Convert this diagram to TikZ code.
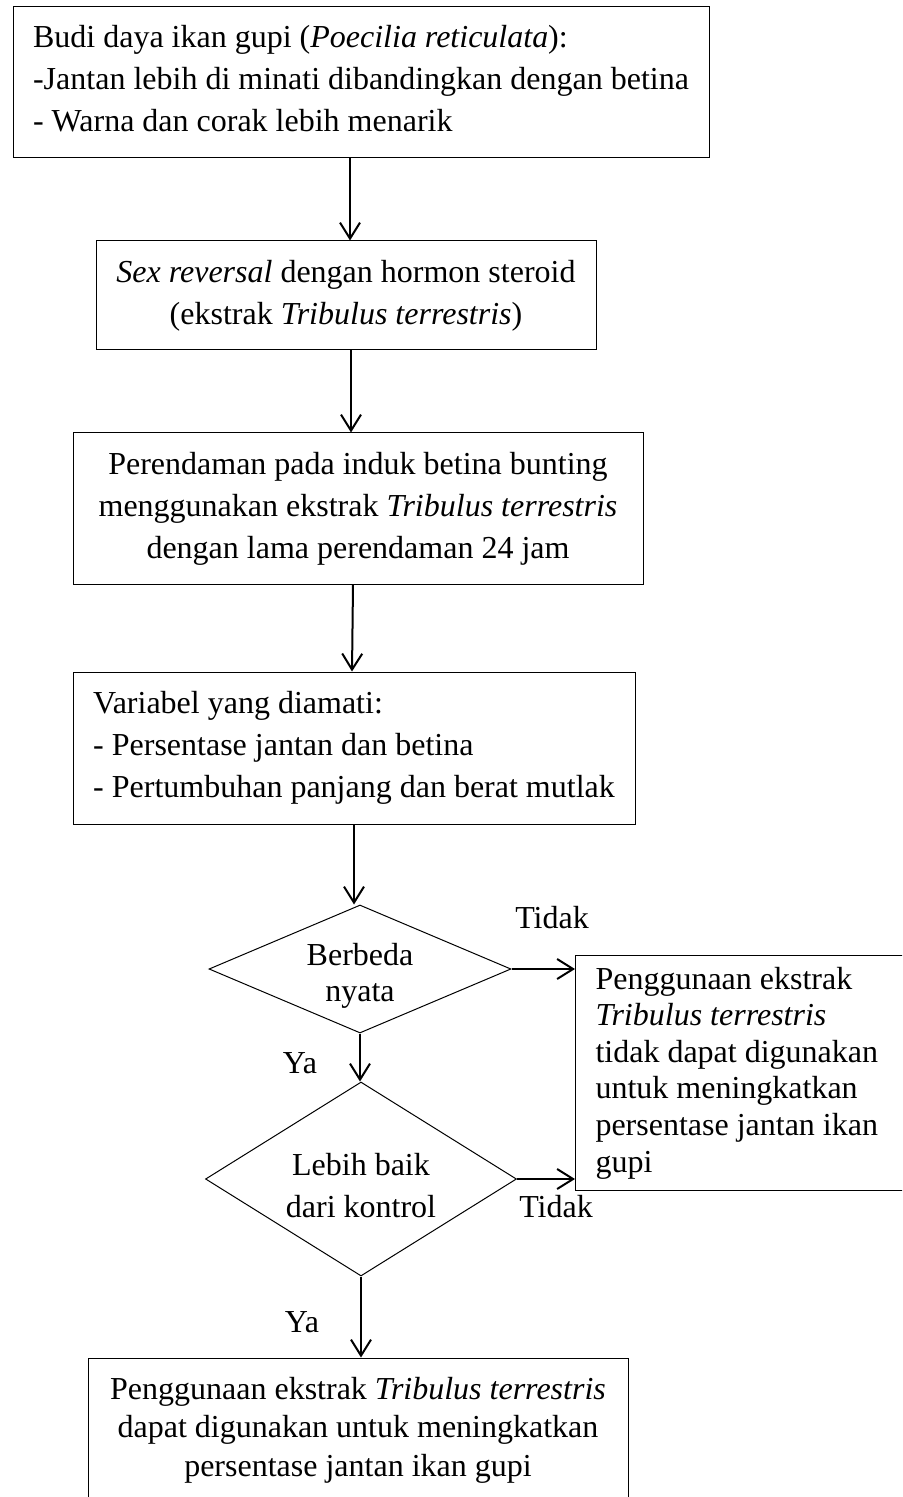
\documentclass[tikz,border=0pt]{standalone}
\usepackage{fontspec}
\setmainfont{Liberation Serif}
\usetikzlibrary{arrows.meta}
\usetikzlibrary{shapes.geometric}

\begin{document}
\begin{tikzpicture}[x=0.5pt, y=-0.5pt,
        box_style/.style={rectangle, draw=black, line width=0.5pt, inner ysep=0pt, font=\fontsize{16pt}{21pt}\selectfont},
        decision_style/.style={diamond, draw=black, line width=0.5pt, inner sep=0pt, align=center, font=\fontsize{16pt}{21pt}\selectfont},
        label_style/.style={anchor=base, inner sep=0pt, font=\fontsize{16pt}{21pt}\selectfont},
        arrow_style/.style={draw=black, line width=1pt, -{Straight Barb[length=8pt, width=10pt]}}]

        \useasboundingbox (0,0) rectangle (902,1497);
        \clip (0,0) rectangle (902,1497);

        \node [box_style, align=left, minimum width=348pt, minimum height=75.5pt](n1) at (361,82.5)
            {Budi daya ikan gupi (\textit{Poecilia reticulata}):\\-Jantan lebih di minati dibandingkan dengan betina\\- Warna dan corak lebih menarik\rule[-4.5pt]{0pt}{0pt}};
        \node [box_style, align=center, minimum width=250pt, minimum height=54.5pt](n2) at (346,295.5)
            {\textit{Sex reversal} dengan hormon steroid\\(ekstrak \textit{Tribulus terrestris})};
        \node [box_style, align=center, minimum width=285pt, minimum height=75.5pt](n3) at (358,508.5)
            {Perendaman pada induk betina bunting\\menggunakan ekstrak \textit{Tribulus terrestris}\\dengan lama perendaman 24 jam};
        \node [box_style, align=left, minimum width=281pt, minimum height=76pt](n4) at (354,748)
            {Variabel yang diamati:\\- Persentase jantan dan betina\\- Pertumbuhan panjang dan berat mutlak};
        \node [decision_style, aspect=2.36, minimum width=151pt, minimum height=64pt, font=\fontsize{16pt}{18pt}\selectfont](n5) at (360,969)
            {\rule{0pt}{18pt}Berbeda\\nyata};
        \node [decision_style, aspect=1.6, minimum width=155.5pt, minimum height=97pt](n6) at (361,1179)
            {\rule{0pt}{18pt}Lebih baik\\dari kontrol};
        \node [box_style, anchor=north west, align=flush left, text width=180pt, inner xsep=10pt, minimum height=117.5pt, font=\fontsize{16pt}{18.3pt}\selectfont](n7) at (575,955)
            {Penggunaan ekstrak\\\textit{Tribulus terrestris}\\tidak dapat digunakan\\untuk meningkatkan\\persentase jantan ikan\\gupi};
        \node [box_style, align=center, minimum width=270pt, minimum height=72pt, font=\fontsize{16pt}{19.25pt}\selectfont](n8) at (358,1430)
            {Penggunaan ekstrak \textit{Tribulus terrestris}\\dapat digunakan untuk meningkatkan\\persentase jantan ikan gupi};

        \node [label_style](t1) at (552,928) {Tidak};
        \node [label_style](t2) at (300,1073) {Ya};
        \node [label_style](t3) at (556,1217) {Tidak};
        \node [label_style](t4) at (302,1332) {Ya};

        \draw [arrow_style] ([xshift=-5.5pt]n1.south) -- ([xshift=2pt]n2.north);
        \draw [arrow_style] ([xshift=2.5pt]n2.south) -- ([xshift=-3.5pt]n3.north);
        \draw [arrow_style] ([xshift=-2.5pt]n3.south) -- ([xshift=-1pt]n4.north);
        \draw [arrow_style] (n4.south) -- (n4.south |- n5.north);
        \draw [arrow_style] (n5.south) -- (n5.south |- n6.north);
        \draw [arrow_style] (n6.south) -- (n6.south |- n8.north);
        \draw [arrow_style] (n5.east) -- (n5.east -| n7.west);
        \draw [arrow_style] (n6.east) -- (n6.east -| n7.west);
        \end{tikzpicture}
\end{document}
